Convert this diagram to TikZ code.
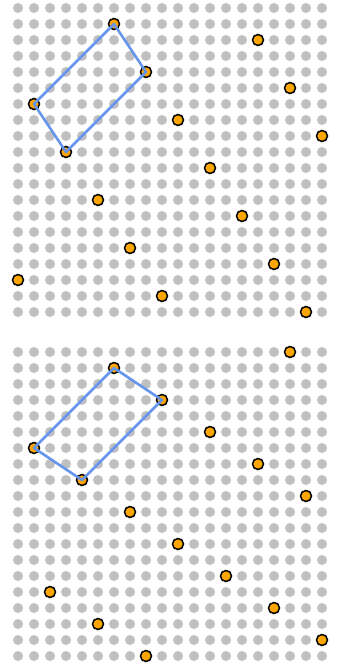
\documentclass[tikz,border=0pt]{standalone}
\definecolor{dotgray}{HTML}{C0C0C0}
\definecolor{ptorange}{HTML}{FFA500}
\definecolor{lineblue}{HTML}{6495ED}
\begin{document}
\begin{tikzpicture}[x=1pt,y=-1pt,
  pt/.style={circle,fill=ptorange,draw=black,line width=1.5pt,minimum size=11pt,inner sep=0pt},
  edge/.style={draw=lineblue,line width=2.6pt,line join=round}]
\useasboundingbox (0,0) rectangle (342,666);
% grids of gray dots
\foreach \i in {0,...,19}{
  \foreach \j in {0,...,19}{
    \fill[dotgray] (18+16*\i, 8+16*\j) circle (5pt);
    \fill[dotgray] (18+16*\i, 352+16*\j) circle (5pt);
  }
}
% top lattice points
\foreach \n/\c/\r in {1/6/1,2/15/2,3/8/4,4/17/5,5/1/6,6/10/7,7/19/8,8/3/9,9/12/10,10/5/12,11/14/13,12/7/15,13/16/16,14/0/17,15/9/18,16/18/19}{
  \node[pt] (t\n) at (18+16*\c, 8+16*\r) {};
}
% bottom lattice points
\foreach \n/\c/\r in {1/17/0,2/6/1,3/9/3,4/12/5,5/1/6,6/15/7,7/4/8,8/18/9,9/7/10,10/10/12,11/13/14,12/2/15,13/16/16,14/5/17,15/19/18,16/8/19}{
  \node[pt] (b\n) at (18+16*\c, 352+16*\r) {};
}
% fundamental cells
\draw[edge] (t1.center) -- (t3.center) -- (t8.center) -- (t5.center) -- cycle;
\draw[edge] (b2.center) -- (b3.center) -- (b7.center) -- (b5.center) -- cycle;
\end{tikzpicture}
\end{document}
